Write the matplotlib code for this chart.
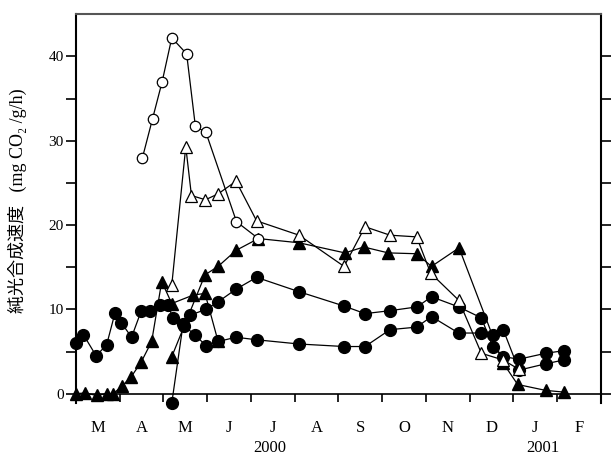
import numpy as np
import matplotlib
matplotlib.use("Agg")
import matplotlib.pyplot as plt
import matplotlib.transforms as mtransforms

# x in months since 1 Mar 2000
# hollow circles
oc_x = [1.52, 1.75, 1.97, 2.19, 2.53, 2.73, 2.97, 3.67, 4.17]
oc_y = [28.0, 32.6, 37.0, 42.2, 40.3, 31.7, 31.0, 20.4, 18.4]

# hollow triangles
ot_x = [2.19, 2.51, 2.64, 2.96, 3.25, 3.66, 4.13, 5.10, 6.13, 6.61, 7.18, 7.79, 8.11, 8.75, 9.27, 9.77, 10.13]
ot_y = [12.9, 29.3, 23.5, 23.0, 23.7, 25.2, 20.5, 18.8, 15.1, 19.8, 18.8, 18.6, 14.3, 11.1, 4.8, 4.0, 2.9]

# filled triangles, series starting at zero in March
t1_x = [0.0, 0.2, 0.47, 0.7, 0.85, 1.05, 1.26, 1.49, 1.73, 1.96, 2.19, 2.68, 2.95, 3.25]
t1_y = [0.0, 0.1, -0.2, 0.0, 0.0, 0.9, 2.0, 3.75, 6.2, 13.3, 10.7, 11.7, 11.9, 6.2]

# filled triangles, series starting in May
t2_x = [2.19, 2.95, 3.25, 3.66, 4.17, 5.10, 6.15, 6.58, 7.14, 7.79, 8.13, 8.76, 9.76, 10.10, 10.74, 11.15]
t2_y = [4.4, 14.1, 15.1, 17.0, 18.4, 17.9, 16.7, 17.4, 16.7, 16.6, 15.1, 17.3, 3.7, 1.1, 0.4, 0.2]

# filled circles, lower series
c1_x = [0.01, 0.17, 0.46, 0.70, 0.89, 1.04, 1.27, 1.49, 1.69, 1.92, 2.11, 2.21, 2.48, 2.72, 2.97,
        3.25, 3.66, 4.13, 5.10, 6.13, 6.61, 7.18, 7.79, 8.13, 8.75, 9.27, 9.53, 9.77, 10.13, 10.74, 11.15]
c1_y = [6.0, 7.0, 4.5, 5.8, 9.55, 8.4, 6.7, 9.8, 9.8, 10.5, 10.5, 9.0, 8.0, 7.0, 5.7,
        6.2, 6.7, 6.4, 5.9, 5.6, 5.6, 7.6, 7.9, 9.15, 7.2, 7.2, 7.0, 7.6, 2.8, 3.55, 4.0]

# filled circles, upper series
c2_x = [2.19, 2.45, 2.60, 2.97, 3.25, 3.66, 4.13, 5.10, 6.13, 6.61, 7.18, 7.80, 8.13, 8.75, 9.27,
        9.53, 9.77, 10.13, 10.74, 11.15]
c2_y = [-1.1, 8.3, 9.3, 10.0, 10.9, 12.4, 13.8, 12.1, 10.4, 9.5, 9.85, 10.3, 11.5, 10.3, 9.0,
        5.6, 4.4, 4.1, 4.8, 5.1]

months = ["M", "A", "M", "J", "J", "A", "S", "O", "N", "D", "J", "F"]
years = ["2000", "2001"]
year_pos = [4.43, 10.67]

fig = plt.figure(figsize=(6.13, 4.58), dpi=100)
ax = fig.add_axes([0.124, 0.12, 0.856, 0.849])

ms = 8.5
ax.plot(c1_x, c1_y, 'k-', lw=0.9, marker='o', ms=ms, mfc='k', mec='k', clip_on=False, zorder=3)
ax.plot(c2_x, c2_y, 'k-', lw=0.9, marker='o', ms=ms, mfc='k', mec='k', clip_on=False, zorder=3)
ax.plot(t1_x, t1_y, 'k-', lw=0.9, marker='^', ms=ms, mfc='k', mec='k', clip_on=False, zorder=3)
ax.plot(t2_x, t2_y, 'k-', lw=0.9, marker='^', ms=ms, mfc='k', mec='k', clip_on=False, zorder=3)
ax.plot(ot_x, ot_y, 'k-', lw=0.9, marker='^', ms=ms, mfc='w', mec='k', mew=0.9, clip_on=False, zorder=4)
ax.plot(oc_x, oc_y, 'k-', lw=0.9, marker='o', ms=7.5, mfc='w', mec='k', mew=0.9, clip_on=False, zorder=5)

ax.set_xlim(0, 12)
ax.set_ylim(-1.1, 45)

for s in ['left', 'right', 'top', 'bottom']:
    ax.spines[s].set_linewidth(1.5)
ax.spines['top'].set_color('#555555')
ax.spines['bottom'].set_position(('data', 0))
ax.spines['bottom'].set_linewidth(1.2)

ax.set_yticks([0, 10, 20, 30, 40])
ax.set_yticks([5, 15, 25, 35], minor=True)
ax.tick_params(axis='y', which='both', direction='out', length=7, width=1.2, pad=2,
               right=True, labelright=False, labelsize=11)
for lab in ax.get_yticklabels():
    lab.set_family('Liberation Serif')

ax.set_xticks(np.arange(13))
ax.set_xticklabels([])
ax.set_xticks(np.arange(12) + 0.5, minor=True)
ax.set_xticklabels(months, minor=True, family='Liberation Serif', fontsize=12)
ax.tick_params(axis='x', which='major', direction='out', length=6, width=1.2)
ax.tick_params(axis='x', which='minor', length=0, pad=19)

trans = mtransforms.blended_transform_factory(ax.transData, fig.transFigure)
for yr, xp in zip(years, year_pos):
    ax.text(xp, 0.022, yr, transform=trans, ha='center', va='center',
            family='Liberation Serif', fontsize=12)

ax.set_ylabel("純光合成速度   (mg CO₂ /g/h)", family=['Liberation Serif', 'Noto Sans CJK JP'],
              fontsize=13)
ax.yaxis.set_label_coords(-0.093, 0.52)

fig.savefig("out.png", dpi=100)
